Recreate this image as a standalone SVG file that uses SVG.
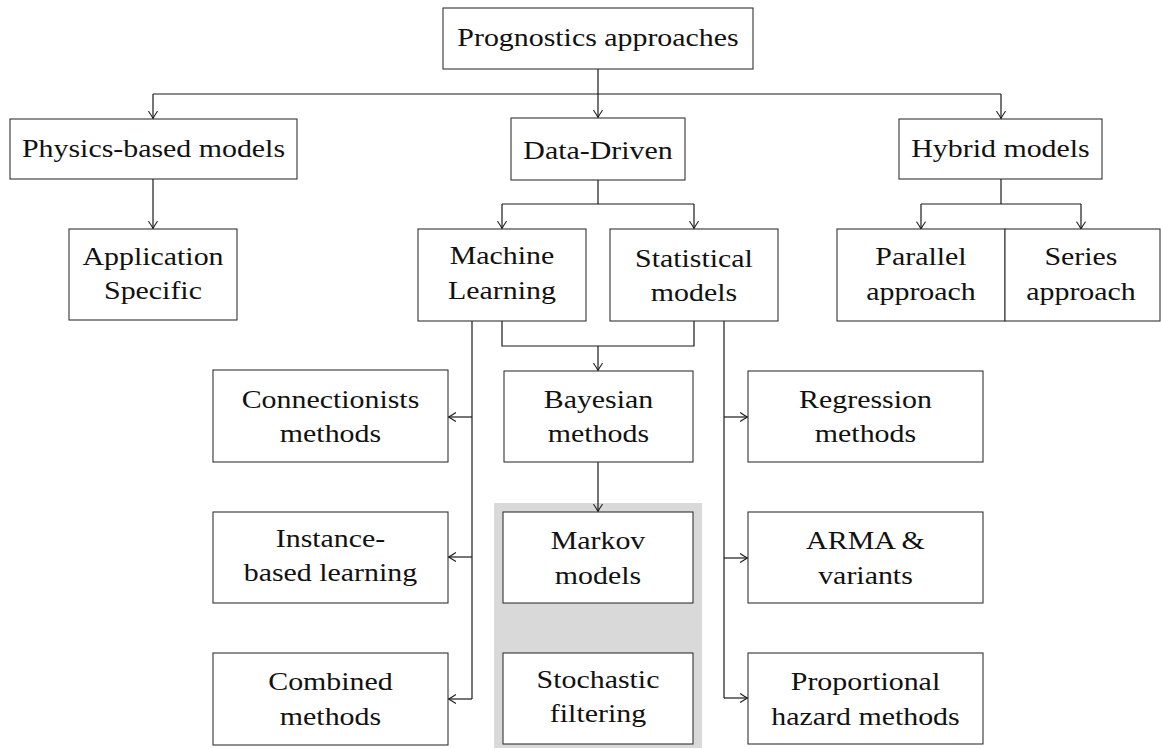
<svg xmlns="http://www.w3.org/2000/svg" width="1161" height="749" viewBox="0 0 1161 749">
  <style>
    .box { fill: #ffffff; stroke: #333333; stroke-width: 1.1; }
    .shade { fill: #d9d9d9; stroke: none; }
    .lbl { font-family: "Liberation Serif", "Times New Roman", serif; font-size: 26px; fill: #111111; text-anchor: middle;
           transform-box: fill-box; transform-origin: center; transform: scaleX(1.15); }
    .wire { fill: none; stroke: #1a1a1a; stroke-width: 1.2; }
    .arr { fill: none; stroke: #1a1a1a; stroke-width: 1.2; marker-end: url(#tip); }
  </style>
  <defs>
    <marker id="tip" markerUnits="userSpaceOnUse" markerWidth="12" markerHeight="12" viewBox="-9 -6 10 12" refX="0" refY="0" orient="auto">
      <path d="M-7,-4.3 Q-2.5,-1.2 0,0 Q-2.5,1.2 -7,4.3" fill="none" stroke="#1a1a1a" stroke-width="1.1" stroke-linecap="round"/>
    </marker>
  </defs>

  <rect width="1161" height="749" fill="#ffffff"/>

  <!-- shaded panel behind the Bayesian sub-methods -->
  <rect class="shade" x="494" y="503" width="208" height="245"/>

  <!-- connectors -->
  <g id="connectors">
    <!-- root fan-out -->
    <line class="wire" x1="598" y1="69" x2="598" y2="94"/>
    <line class="wire" x1="153" y1="94" x2="1001" y2="94"/>
    <line class="arr" x1="153" y1="94" x2="153" y2="118.5"/>
    <line class="arr" x1="598" y1="94" x2="598" y2="117.5"/>
    <line class="arr" x1="1001" y1="94" x2="1001" y2="118.5"/>
    <!-- physics branch -->
    <line class="arr" x1="153" y1="179" x2="153" y2="228.5"/>
    <!-- data-driven fan-out -->
    <line class="wire" x1="598" y1="180" x2="598" y2="204"/>
    <line class="wire" x1="502" y1="204" x2="694" y2="204"/>
    <line class="arr" x1="502" y1="204" x2="502" y2="228.5"/>
    <line class="arr" x1="694" y1="204" x2="694" y2="228.5"/>
    <!-- hybrid fan-out -->
    <line class="wire" x1="1001" y1="179" x2="1001" y2="204"/>
    <line class="wire" x1="921" y1="204" x2="1081" y2="204"/>
    <line class="arr" x1="921" y1="204" x2="921" y2="229"/>
    <line class="arr" x1="1081" y1="204" x2="1081" y2="229"/>
    <!-- ML + statistical join into Bayesian -->
    <polyline class="wire" points="502,321 502,346 694,346 694,321"/>
    <line class="arr" x1="598" y1="346" x2="598" y2="370.5"/>
    <line class="arr" x1="598" y1="462" x2="598" y2="511.5"/>
    <!-- machine learning trunk -->
    <line class="wire" x1="472" y1="321" x2="472" y2="699"/>
    <line class="arr" x1="472" y1="417" x2="448.5" y2="417"/>
    <line class="arr" x1="472" y1="557" x2="448.5" y2="557"/>
    <line class="arr" x1="472" y1="699" x2="448.5" y2="699"/>
    <!-- statistical trunk -->
    <line class="wire" x1="724" y1="321" x2="724" y2="698"/>
    <line class="arr" x1="724" y1="417" x2="747.5" y2="417"/>
    <line class="arr" x1="724" y1="558" x2="747.5" y2="558"/>
    <line class="arr" x1="724" y1="698" x2="747.5" y2="698"/>
  </g>

  <g id="n-root">
    <rect class="box" x="443" y="8" width="310" height="61"/>
    <text class="lbl" x="598" y="46.5">Prognostics approaches</text>
  </g>
  <g id="n-physics">
    <rect class="box" x="10" y="119" width="287" height="60"/>
    <text class="lbl" x="153.5" y="157">Physics-based models</text>
  </g>
  <g id="n-datadriven">
    <rect class="box" x="511" y="118" width="174" height="62"/>
    <text class="lbl" x="598" y="159">Data-Driven</text>
  </g>
  <g id="n-hybrid">
    <rect class="box" x="899" y="119" width="203" height="60"/>
    <text class="lbl" x="1000.5" y="157">Hybrid models</text>
  </g>
  <g id="n-application">
    <rect class="box" x="69" y="229" width="168" height="91"/>
    <text class="lbl" x="153" y="265"><tspan x="153">Application</tspan><tspan x="153" dy="34.5">Specific</tspan></text>
  </g>
  <g id="n-ml">
    <rect class="box" x="418" y="229" width="168" height="92"/>
    <text class="lbl" x="502" y="264.3"><tspan x="502">Machine</tspan><tspan x="502" dy="34.5">Learning</tspan></text>
  </g>
  <g id="n-statistical">
    <rect class="box" x="610" y="229" width="168" height="92"/>
    <text class="lbl" x="694" y="267"><tspan x="694">Statistical</tspan><tspan x="694" dy="34.5">models</tspan></text>
  </g>
  <g id="n-parallel">
    <rect class="box" x="837" y="229" width="168" height="92"/>
    <text class="lbl" x="921" y="265.5"><tspan x="921">Parallel</tspan><tspan x="921" dy="34.5">approach</tspan></text>
  </g>
  <g id="n-series">
    <rect class="box" x="1005" y="229" width="155" height="92"/>
    <text class="lbl" x="1081" y="265.5"><tspan x="1081">Series</tspan><tspan x="1081" dy="34.5">approach</tspan></text>
  </g>
  <g id="n-connectionists">
    <rect class="box" x="213" y="370" width="235" height="92"/>
    <text class="lbl" x="330.5" y="408"><tspan x="330.5">Connectionists</tspan><tspan x="330.5" dy="34.5">methods</tspan></text>
  </g>
  <g id="n-bayesian">
    <rect class="box" x="504" y="371" width="189" height="91"/>
    <text class="lbl" x="598.5" y="408"><tspan x="598.5">Bayesian</tspan><tspan x="598.5" dy="34.5">methods</tspan></text>
  </g>
  <g id="n-regression">
    <rect class="box" x="748" y="371" width="235" height="91"/>
    <text class="lbl" x="865.5" y="408"><tspan x="865.5">Regression</tspan><tspan x="865.5" dy="34.5">methods</tspan></text>
  </g>
  <g id="n-instance">
    <rect class="box" x="213" y="512" width="235" height="91"/>
    <text class="lbl" x="330.5" y="547"><tspan x="330.5">Instance-</tspan><tspan x="330.5" dy="34.5">based learning</tspan></text>
  </g>
  <g id="n-markov">
    <rect class="box" x="503" y="512" width="190" height="91"/>
    <text class="lbl" x="598" y="549.5"><tspan x="598">Markov</tspan><tspan x="598" dy="34.5">models</tspan></text>
  </g>
  <g id="n-arma">
    <rect class="box" x="748" y="512" width="235" height="91"/>
    <text class="lbl" x="865.5" y="549.5"><tspan x="865.5">ARMA &amp;</tspan><tspan x="865.5" dy="34.5">variants</tspan></text>
  </g>
  <g id="n-combined">
    <rect class="box" x="213" y="653" width="235" height="92"/>
    <text class="lbl" x="330.5" y="690.5"><tspan x="330.5">Combined</tspan><tspan x="330.5" dy="34.5">methods</tspan></text>
  </g>
  <g id="n-stochastic">
    <rect class="box" x="503" y="653" width="190" height="91"/>
    <text class="lbl" x="598" y="688"><tspan x="598">Stochastic</tspan><tspan x="598" dy="34.5">filtering</tspan></text>
  </g>
  <g id="n-proportional">
    <rect class="box" x="748" y="653" width="235" height="91"/>
    <text class="lbl" x="865.5" y="690.5"><tspan x="865.5">Proportional</tspan><tspan x="865.5" dy="34.5">hazard methods</tspan></text>
  </g>
</svg>
